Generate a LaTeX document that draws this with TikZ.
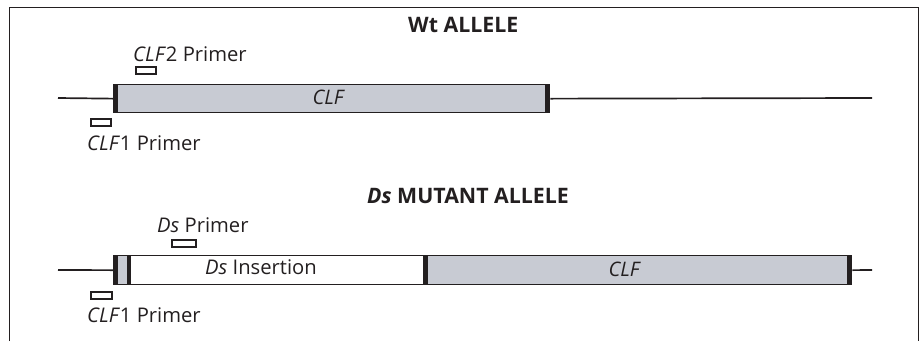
\documentclass[tikz,border=0pt]{standalone}
\usepackage{fontspec}
\setmainfont{Open Sans}
\definecolor{ink}{HTML}{231F20}
\definecolor{exon}{HTML}{C8CBD3}
\tikzset{
  dna/.style={draw=ink, line width=1.7pt},
  genebox/.style={draw=ink, line width=1.3pt, fill=exon, rectangle, inner sep=0pt, anchor=north west},
  insbox/.style={genebox, fill=white},
  endbar/.style={fill=ink, draw=none, rectangle, inner sep=0pt, anchor=north west},
  primer/.style={draw=ink, line width=2.2pt, fill=white, rectangle, inner sep=0pt, anchor=north west, minimum height=7pt},
  lbl/.style={inner sep=0pt, anchor=base west, text=ink, font=\fontsize{20.2}{24}\selectfont},
  boxlbl/.style={inner sep=0pt, anchor=base, text=ink, font=\fontsize{20}{24}\selectfont\itshape},
  heading/.style={inner sep=0pt, anchor=base west, text=ink, font=\fontsize{21.3}{25}\selectfont\bfseries},
}
\begin{document}
\begin{tikzpicture}[x=1pt, y=-1pt]
\useasboundingbox (0,0) rectangle (920,341);
% frame
\draw[ink, line width=1pt] (9.5,341) -- (9.5,7) -- (918,7) -- (918,341);

% ---- wild-type allele ----
\node[heading] (wtitle) at (408,32) {Wt ALLELE};
\coordinate (wL) at (58,98);
\coordinate (wR) at (872,98);
\node[genebox, minimum width=436pt, minimum height=28pt] (wclf) at (113,84) {};
\node[endbar, minimum width=5pt, minimum height=28.6pt] (wbarL) at (113,83.7) {};
\node[endbar, minimum width=4.5pt, minimum height=28.6pt] (wbarR) at (544.5,83.7) {};
\draw[dna] (wL) -- (wclf.west);
\draw[dna] (wclf.east) -- (wR);
\node[boxlbl] (wclftxt) at (328,104.7) {CLF};

\node[primer, minimum width=20pt] (p2) at (135,66) {};
\node[lbl] (p2txt) at (133,61) {\textit{CLF}2 Primer};
\node[primer, minimum width=20pt] (p1w) at (90,118) {};
\node[lbl] (p1wtxt) at (87,150) {\textit{CLF}1 Primer};

% ---- Ds mutant allele ----
\node[heading] (mtitle) at (367,203) {\textit{Ds} MUTANT ALLELE};
\coordinate (mL) at (58,270);
\coordinate (mR) at (872,270);
\node[genebox, minimum width=16pt, minimum height=29pt] (mstub) at (113,255) {};
\node[insbox, minimum width=298pt, minimum height=29pt] (mins) at (129,255) {};
\node[genebox, minimum width=426pt, minimum height=29pt] (mclf) at (425,255) {};
\node[endbar, minimum width=4.5pt, minimum height=29.6pt] (mbar1) at (113,254.7) {};
\node[endbar, minimum width=4.2pt, minimum height=29.6pt] (mbar2) at (127,254.7) {};
\node[endbar, minimum width=4.5pt, minimum height=29.6pt] (mbar3) at (423,254.7) {};
\node[endbar, minimum width=4.7pt, minimum height=29.6pt] (mbar4) at (846.3,254.7) {};
\draw[dna] (mL) -- (mstub.west);
\draw[dna] (mclf.east) -- (mR);
\node[lbl, anchor=base] (minstxt) at (261,274) {\textit{Ds} Insertion};
\node[boxlbl] (mclftxt) at (624,276) {CLF};

\node[primer, minimum width=24pt] (pds) at (171,239) {};
\node[lbl] (pdstxt) at (157,232) {\textit{Ds} Primer};
\node[primer, minimum width=21pt] (p1m) at (90,291) {};
\node[lbl] (p1mtxt) at (87,322) {\textit{CLF}1 Primer};
\end{tikzpicture}
\end{document}
